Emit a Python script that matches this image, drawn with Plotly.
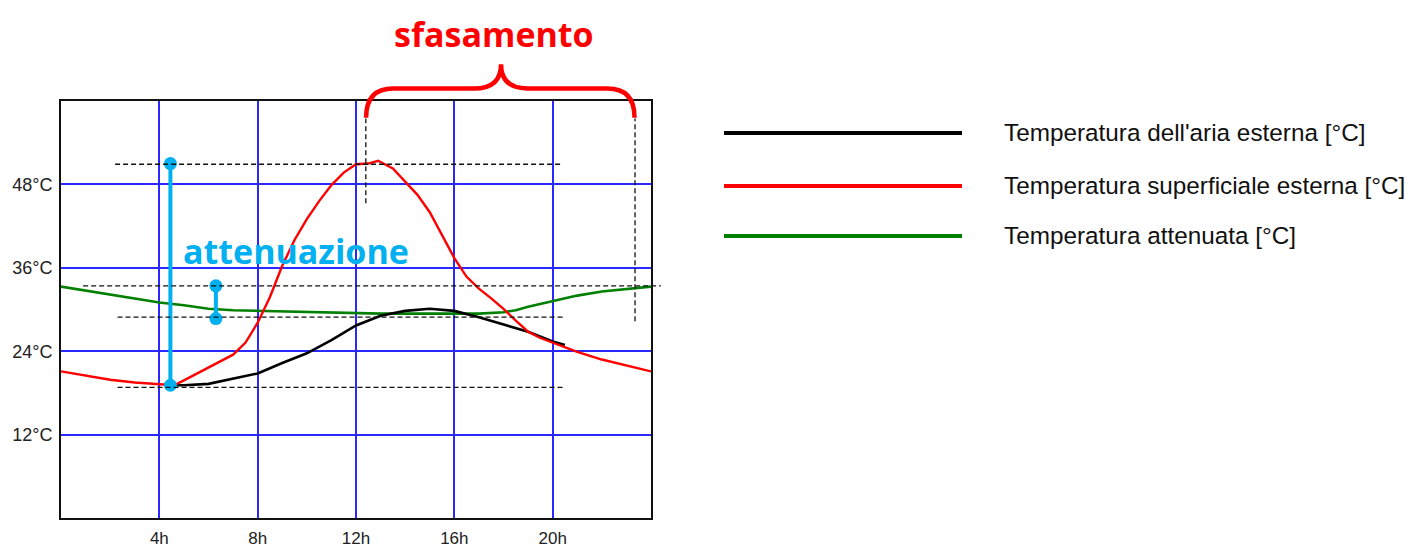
import plotly.graph_objects as go

# ---------------- data ----------------
hours_red = [0, 1, 2, 3, 4, 4.6, 5, 6, 7, 7.5, 8, 8.5, 9, 9.5, 10, 10.5, 11, 11.5, 12,
             12.5, 12.9, 13.5, 14, 14.5, 15, 15.5, 16, 16.5, 17, 17.5, 18, 18.5, 19,
             19.5, 20, 21, 22, 23, 24]
temp_red = [21.1, 20.5, 19.9, 19.5, 19.3, 19.1, 19.8, 21.7, 23.5, 25.2, 28.1, 31.8, 36.3,
            40.0, 43.0, 45.6, 47.9, 49.7, 50.9, 51.0, 51.4, 50.3, 48.4, 46.5, 44.0, 40.7,
            37.4, 34.7, 33.0, 31.6, 30.1, 28.4, 26.8, 25.9, 25.2, 23.9, 22.8, 21.9, 21.1]

hours_air = [4.45, 5, 6, 7, 8, 9, 10, 11, 12, 13, 14, 15, 16, 17, 18, 19, 20, 20.5]
temp_air = [19.1, 19.1, 19.3, 20.0, 20.8, 22.3, 23.7, 25.6, 27.7, 29.1, 29.8, 30.1, 29.8,
            28.9, 27.9, 26.8, 25.4, 24.9]

hours_green = [0, 1, 2, 3, 4, 5, 6, 7, 8, 9, 10, 11, 12, 13, 14, 15, 16, 17, 18, 18.5,
               19, 20, 21, 22, 23, 24]
temp_green = [33.3, 32.7, 32.1, 31.5, 31.0, 30.6, 30.1, 29.9, 29.8, 29.7, 29.6, 29.5, 29.4,
              29.4, 29.4, 29.4, 29.4, 29.4, 29.6, 29.9, 30.4, 31.2, 32.0, 32.6, 33.0, 33.3]

series_names = ["Temperatura dell'aria esterna [°C]",
                "Temperatura superficiale esterna [°C]",
                "Temperatura attenuata [°C]"]

x_tick_vals = [4, 8, 12, 16, 20]
x_tick_text = ["4h", "8h", "12h", "16h", "20h"]
y_tick_vals = [12, 24, 36, 48]
y_tick_text = ["12°C", "24°C", "36°C", "48°C"]

# dashed guide lines: level °C, from h, to h
h_guide_level = [50.9, 33.4, 28.9, 18.8]
h_guide_from = [2.2, 0.9, 2.3, 2.3]
h_guide_to = [20.4, 24.4, 20.5, 20.5]
# vertical dashed guides: hour, from °C, to °C
v_guide_hour = [12.4, 23.35]
v_guide_from = [45.3, 28.3]
v_guide_to = [57.5, 57.5]

# attenuation markers
atten_big_h = [4.45, 4.45]
atten_big_t = [51.0, 19.1]
atten_small_h = [6.3, 6.3]
atten_small_t = [33.4, 28.7]

# phase shift brace: ends (h), apex (h), levels (°C)
brace_left_h = 12.41
brace_right_h = 23.33
brace_apex_h = 17.9
brace_end_t = 57.6
brace_bar_t = 61.8
brace_apex_t = 65.3

X_MAX = 24
Y_MAX = 60

# ---------------- styling ----------------
OFF = 8  # page body margin
W, H = 1411, 539
M_L, M_T = 61 - OFF, 101 - OFF
M_R = W - (651 - OFF)
M_B = H - (518 - OFF)
PLOT_W = W - M_L - M_R
PLOT_H = H - M_T - M_B

BLUE_GRID = "rgb(40,40,255)"
CYAN = "#00B0F0"
colors = ["#000000", "#FF0000", "#008000"]


def px(h):
    return h / X_MAX


def py(t):
    return t / Y_MAX


def pix_x(x):
    return (x - OFF - M_L) / PLOT_W


def pix_y(y):
    return (H - M_B - (y - OFF)) / PLOT_H


fig = go.Figure()

fig.add_trace(go.Scatter(x=hours_green, y=temp_green, mode="lines", name=series_names[2],
                         line=dict(color=colors[2], width=2.6), showlegend=False))
fig.add_trace(go.Scatter(x=hours_air, y=temp_air, mode="lines", name=series_names[0],
                         line=dict(color=colors[0], width=2.6), showlegend=False))
fig.add_trace(go.Scatter(x=hours_red, y=temp_red, mode="lines", name=series_names[1],
                         line=dict(color=colors[1], width=2.4), showlegend=False))

shapes = []
dash_style = dict(color="#111", width=1.3, dash="5px,3px")
for lvl, a, b in zip(h_guide_level, h_guide_from, h_guide_to):
    shapes.append(dict(type="line", xref="paper", yref="paper",
                       x0=px(a), x1=px(b), y0=py(lvl), y1=py(lvl), line=dash_style, layer="above"))
for hh, a, b in zip(v_guide_hour, v_guide_from, v_guide_to):
    shapes.append(dict(type="line", xref="paper", yref="paper",
                       x0=px(hh), x1=px(hh), y0=py(a), y1=py(b), line=dash_style, layer="above"))

# brace
L, R, A = px(brace_left_h), px(brace_right_h), px(brace_apex_h)
ye, yb, ya = py(brace_end_t), py(brace_bar_t), py(brace_apex_t)
dx = px(1.1)
path = (f"M {L},{ye} Q {L},{yb} {L+dx},{yb} L {A-dx},{yb} Q {A},{yb} {A},{ya} "
        f"Q {A},{yb} {A+dx},{yb} L {R-dx},{yb} Q {R},{yb} {R},{ye}")
shapes.append(dict(type="path", xref="paper", yref="paper", path=path,
                   line=dict(color="#FF0000", width=4.5), layer="above"))

# manual legend
legend_y_pix = [133, 186, 236]
for yy, c in zip(legend_y_pix, colors):
    shapes.append(dict(type="line", xref="paper", yref="paper",
                       x0=pix_x(724), x1=pix_x(962), y0=pix_y(yy), y1=pix_y(yy),
                       line=dict(color=c, width=4)))

fig.add_trace(go.Scatter(x=atten_big_h, y=atten_big_t, mode="lines+markers",
                         line=dict(color=CYAN, width=4), marker=dict(color=CYAN, size=13),
                         showlegend=False, cliponaxis=False, hoverinfo="skip"))
fig.add_trace(go.Scatter(x=atten_small_h, y=atten_small_t, mode="lines+markers",
                         line=dict(color=CYAN, width=4), marker=dict(color=CYAN, size=13),
                         showlegend=False, cliponaxis=False, hoverinfo="skip"))

annotations = []
annotations.append(dict(text="<b>attenuazione</b>", xref="paper", yref="paper",
                        x=pix_x(181), y=pix_y(251), xanchor="left", yanchor="middle",
                        showarrow=False,
                        font=dict(family="Open Sans", size=34, color=CYAN)))
annotations.append(dict(text="<b>sfasamento</b>", xref="paper", yref="paper",
                        x=pix_x(494), y=pix_y(34), xanchor="center", yanchor="middle",
                        showarrow=False,
                        font=dict(family="Open Sans", size=34, color="#FF0000")))
for yy, name in zip(legend_y_pix, series_names):
    annotations.append(dict(text=name, xref="paper", yref="paper",
                            x=pix_x(1002), y=pix_y(yy - 1), xanchor="left", yanchor="middle",
                            showarrow=False,
                            font=dict(family="Liberation Sans", size=24.3, color="#111")))

fig.update_layout(
    width=W, height=H,
    margin=dict(l=M_L, r=M_R, t=M_T, b=M_B, autoexpand=False),
    paper_bgcolor="white", plot_bgcolor="white",
    showlegend=False,
    shapes=shapes, annotations=annotations,
    xaxis=dict(range=[0, X_MAX], tickvals=x_tick_vals, ticktext=x_tick_text,
               showgrid=True, gridcolor=BLUE_GRID, gridwidth=1.6,
               showline=True, linecolor="#111", linewidth=2, mirror=True,
               zeroline=False, ticks="", automargin=False, ticklabelstandoff=4,
               tickfont=dict(family="Liberation Sans", size=17, color="#222")),
    yaxis=dict(range=[0, Y_MAX], tickvals=y_tick_vals, ticktext=y_tick_text,
               showgrid=True, gridcolor=BLUE_GRID, gridwidth=1.6,
               showline=True, linecolor="#111", linewidth=2, mirror=True,
               zeroline=False, ticks="", automargin=False, ticklabelstandoff=3,
               tickfont=dict(family="Liberation Sans", size=18, color="#222")),
)

fig.write_html("out.html")
